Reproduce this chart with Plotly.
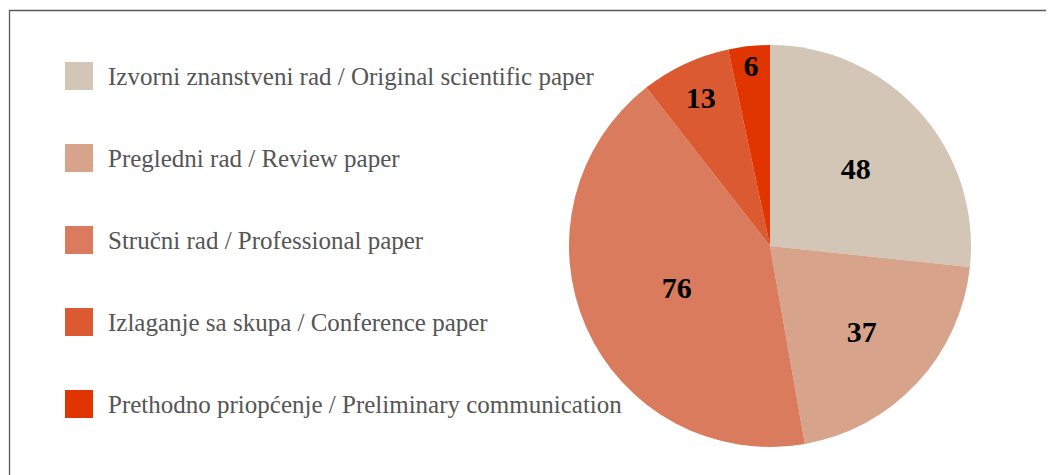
import plotly.graph_objects as go

labels = [
    "Izvorni znanstveni rad / Original scientific paper",
    "Pregledni rad / Review paper",
    "Stručni rad / Professional paper",
    "Izlaganje sa skupa / Conference paper",
    "Prethodno priopćenje / Preliminary communication",
]
values = [48, 37, 76, 13, 6]
colors = ["#D3C6B6", "#D7A38A", "#DA7B5D", "#DC5A31", "#E03500"]

# page has an 8px body margin; figure area is offset accordingly
OFF = 8
W, H = 1054 - OFF, 475 - OFF


def px(x):
    return (x - OFF) / W


def py(y):
    return 1 - (y - OFF) / H


fig = go.Figure()
fig.add_trace(go.Pie(
    labels=labels,
    values=values,
    marker=dict(colors=colors, line=dict(width=0)),
    sort=False,
    direction="clockwise",
    rotation=0,
    textinfo="value",
    textposition="inside",
    insidetextorientation="horizontal",
    textfont=dict(family="Liberation Serif", size=30, color="black", weight="bold"),
    showlegend=False,
    domain=dict(x=[px(569), px(971)], y=[py(447), py(45)]),
    hoverinfo="label+value",
))

# manual legend
shapes = []
annotations = []
row_y = [76, 158, 240, 322, 404]
for i, (lab, col) in enumerate(zip(labels, colors)):
    yc = row_y[i]
    shapes.append(dict(type="rect", xref="paper", yref="paper",
                       x0=px(65), x1=px(93), y0=py(yc + 14), y1=py(yc - 14),
                       fillcolor=col, line=dict(width=0)))
    annotations.append(dict(xref="paper", yref="paper", x=px(106), y=py(yc),
                            xanchor="left", yanchor="middle", text=lab, showarrow=False,
                            font=dict(family="Liberation Serif", size=25, color="#555555")))

# outer frame
shapes.append(dict(type="rect", xref="paper", yref="paper",
                   x0=px(9.5), x1=1.05, y0=-0.05, y1=py(10.5),
                   line=dict(color="#595959", width=1.3), fillcolor="rgba(0,0,0,0)", layer="below"))

fig.update_layout(
    width=W, height=H,
    margin=dict(l=0, r=0, t=0, b=0),
    paper_bgcolor="white",
    plot_bgcolor="white",
    shapes=shapes,
    annotations=annotations,
)

fig.write_html("out.html")
